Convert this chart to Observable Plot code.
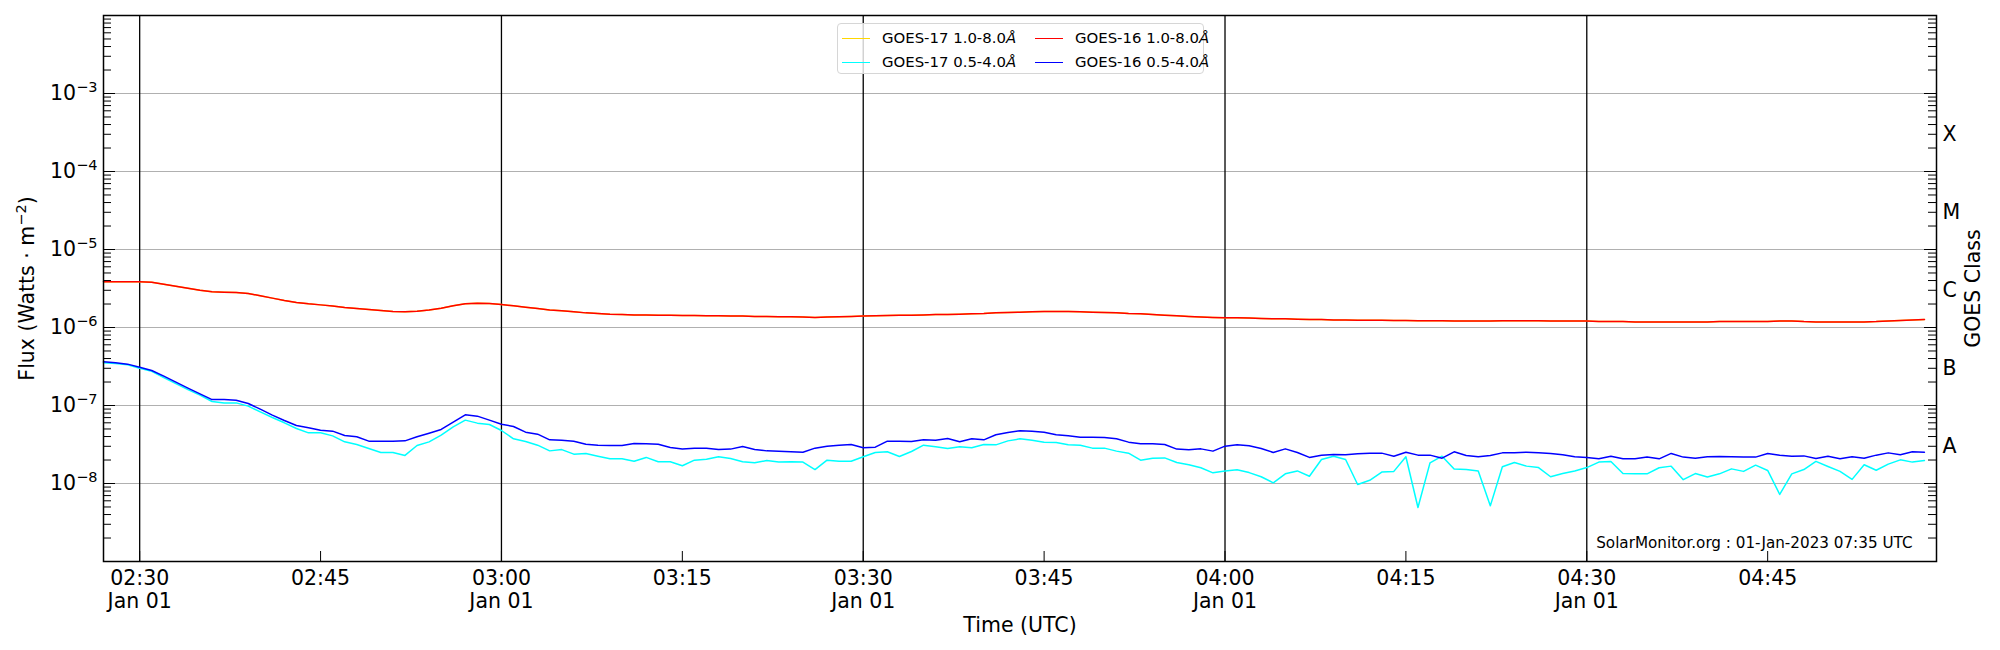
<!DOCTYPE html>
<html>
<head>
<meta charset="utf-8">
<script src="https://cdn.jsdelivr.net/npm/d3@7"></script>
<script src="https://cdn.jsdelivr.net/npm/@observablehq/plot@0.6"></script>
<style>
  html, body { margin: 0; padding: 0; background: #fff; }
  body { font-family: "DejaVu Sans", sans-serif; }
  #wrap { position: relative; width: 2000px; height: 650px; }
  #legend { position: absolute; left: 837px; top: 23px; width: 367px; height: 51px; box-sizing: border-box;
            border: 1px solid #d6d6d6; border-radius: 4px; background: rgba(255,255,255,0.8);
            font-family: "DejaVu Sans", sans-serif; font-size: 14.9px; color: #000; }
  .item { position: absolute; display: flex; align-items: center; height: 20px; white-space: nowrap; }
  .sw { width: 28px; height: 0; border-top: 1.5px solid; margin-right: 12px; }
</style>
</head>
<body>
<div id="wrap">
  <div id="chart"></div>
  <div id="legend"></div>
</div>
<script>
// ---- data: 1-minute samples starting 2023-01-01 02:27 UTC ----
const startTime = "2023-01-01T02:27:00Z";

const goes16Long = [
3.85e-6,3.85e-6,3.85e-6,3.85e-6,3.81e-6,3.59e-6,3.39e-6,3.19e-6,3.01e-6,2.87e-6,
2.84e-6,2.81e-6,2.73e-6,2.55e-6,2.38e-6,2.22e-6,2.09e-6,2.01e-6,1.95e-6,1.88e-6,
1.80e-6,1.75e-6,1.70e-6,1.65e-6,1.60e-6,1.59e-6,1.62e-6,1.68e-6,1.77e-6,1.90e-6,
2.01e-6,2.05e-6,2.03e-6,1.97e-6,1.90e-6,1.82e-6,1.75e-6,1.68e-6,1.64e-6,1.59e-6,
1.54e-6,1.51e-6,1.48e-6,1.47e-6,1.45e-6,1.45e-6,1.44e-6,1.44e-6,1.43e-6,1.43e-6,
1.41e-6,1.41e-6,1.40e-6,1.40e-6,1.38e-6,1.38e-6,1.37e-6,1.37e-6,1.36e-6,1.34e-6,
1.36e-6,1.37e-6,1.38e-6,1.40e-6,1.41e-6,1.43e-6,1.44e-6,1.44e-6,1.45e-6,1.47e-6,
1.47e-6,1.48e-6,1.50e-6,1.51e-6,1.54e-6,1.56e-6,1.57e-6,1.59e-6,1.60e-6,1.60e-6,
1.60e-6,1.59e-6,1.57e-6,1.56e-6,1.54e-6,1.51e-6,1.50e-6,1.47e-6,1.44e-6,1.41e-6,
1.38e-6,1.36e-6,1.34e-6,1.33e-6,1.33e-6,1.32e-6,1.30e-6,1.29e-6,1.29e-6,1.28e-6,
1.27e-6,1.27e-6,1.25e-6,1.25e-6,1.24e-6,1.24e-6,1.24e-6,1.23e-6,1.23e-6,1.22e-6,
1.22e-6,1.22e-6,1.21e-6,1.21e-6,1.21e-6,1.21e-6,1.22e-6,1.22e-6,1.22e-6,1.22e-6,
1.21e-6,1.21e-6,1.21e-6,1.21e-6,1.19e-6,1.19e-6,1.19e-6,1.18e-6,1.18e-6,1.18e-6,
1.18e-6,1.18e-6,1.18e-6,1.18e-6,1.19e-6,1.19e-6,1.19e-6,1.19e-6,1.19e-6,1.21e-6,
1.21e-6,1.19e-6,1.18e-6,1.18e-6,1.18e-6,1.18e-6,1.18e-6,1.19e-6,1.21e-6,1.23e-6,
1.25e-6,1.27e-6];

// GOES-17 long channel is indistinguishable from GOES-16 (drawn underneath)
const goes17Long = [
3.85e-6,3.85e-6,3.85e-6,3.85e-6,3.81e-6,3.59e-6,3.39e-6,3.19e-6,3.01e-6,2.87e-6,
2.84e-6,2.81e-6,2.73e-6,2.55e-6,2.38e-6,2.22e-6,2.09e-6,2.01e-6,1.95e-6,1.88e-6,
1.80e-6,1.75e-6,1.70e-6,1.65e-6,1.60e-6,1.59e-6,1.62e-6,1.68e-6,1.77e-6,1.90e-6,
2.01e-6,2.05e-6,2.03e-6,1.97e-6,1.90e-6,1.82e-6,1.75e-6,1.68e-6,1.64e-6,1.59e-6,
1.54e-6,1.51e-6,1.48e-6,1.47e-6,1.45e-6,1.45e-6,1.44e-6,1.44e-6,1.43e-6,1.43e-6,
1.41e-6,1.41e-6,1.40e-6,1.40e-6,1.38e-6,1.38e-6,1.37e-6,1.37e-6,1.36e-6,1.34e-6,
1.36e-6,1.37e-6,1.38e-6,1.40e-6,1.41e-6,1.43e-6,1.44e-6,1.44e-6,1.45e-6,1.47e-6,
1.47e-6,1.48e-6,1.50e-6,1.51e-6,1.54e-6,1.56e-6,1.57e-6,1.59e-6,1.60e-6,1.60e-6,
1.60e-6,1.59e-6,1.57e-6,1.56e-6,1.54e-6,1.51e-6,1.50e-6,1.47e-6,1.44e-6,1.41e-6,
1.38e-6,1.36e-6,1.34e-6,1.33e-6,1.33e-6,1.32e-6,1.30e-6,1.29e-6,1.29e-6,1.28e-6,
1.27e-6,1.27e-6,1.25e-6,1.25e-6,1.24e-6,1.24e-6,1.24e-6,1.23e-6,1.23e-6,1.22e-6,
1.22e-6,1.22e-6,1.21e-6,1.21e-6,1.21e-6,1.21e-6,1.22e-6,1.22e-6,1.22e-6,1.22e-6,
1.21e-6,1.21e-6,1.21e-6,1.21e-6,1.19e-6,1.19e-6,1.19e-6,1.18e-6,1.18e-6,1.18e-6,
1.18e-6,1.18e-6,1.18e-6,1.18e-6,1.19e-6,1.19e-6,1.19e-6,1.19e-6,1.19e-6,1.21e-6,
1.21e-6,1.19e-6,1.18e-6,1.18e-6,1.18e-6,1.18e-6,1.18e-6,1.19e-6,1.21e-6,1.23e-6,
1.25e-6,1.27e-6];

const goes16Short = [
36.3e-8,35.2e-8,33.9e-8,31.0e-8,28.1e-8,23.8e-8,19.9e-8,16.7e-8,14.1e-8,11.9e-8,
11.9e-8,11.7e-8,10.6e-8,8.97e-8,7.52e-8,6.42e-8,5.54e-8,5.17e-8,4.83e-8,4.69e-8,
4.13e-8,3.97e-8,3.49e-8,3.49e-8,3.49e-8,3.52e-8,3.97e-8,4.42e-8,4.93e-8,6.12e-8,
7.59e-8,7.30e-8,6.49e-8,5.76e-8,5.38e-8,4.55e-8,4.29e-8,3.63e-8,3.59e-8,3.49e-8,
3.19e-8,3.10e-8,3.07e-8,3.07e-8,3.26e-8,3.23e-8,3.19e-8,2.90e-8,2.76e-8,2.84e-8,
2.84e-8,2.73e-8,2.76e-8,2.98e-8,2.73e-8,2.62e-8,2.60e-8,2.55e-8,2.52e-8,2.84e-8,
3.01e-8,3.10e-8,3.16e-8,2.87e-8,2.92e-8,3.49e-8,3.49e-8,3.46e-8,3.63e-8,3.59e-8,
3.78e-8,3.42e-8,3.74e-8,3.63e-8,4.21e-8,4.51e-8,4.74e-8,4.69e-8,4.55e-8,4.21e-8,
4.08e-8,3.93e-8,3.93e-8,3.89e-8,3.74e-8,3.39e-8,3.23e-8,3.23e-8,3.16e-8,2.76e-8,
2.70e-8,2.78e-8,2.60e-8,3.01e-8,3.13e-8,3.04e-8,2.81e-8,2.50e-8,2.78e-8,2.50e-8,
2.16e-8,2.31e-8,2.36e-8,2.33e-8,2.40e-8,2.45e-8,2.45e-8,2.24e-8,2.52e-8,2.31e-8,
2.31e-8,2.11e-8,2.55e-8,2.29e-8,2.20e-8,2.29e-8,2.47e-8,2.47e-8,2.52e-8,2.47e-8,
2.43e-8,2.33e-8,2.20e-8,2.16e-8,2.07e-8,2.24e-8,2.07e-8,2.07e-8,2.18e-8,2.07e-8,
2.43e-8,2.18e-8,2.11e-8,2.20e-8,2.22e-8,2.20e-8,2.18e-8,2.18e-8,2.43e-8,2.31e-8,
2.24e-8,2.26e-8,2.09e-8,2.24e-8,2.07e-8,2.20e-8,2.11e-8,2.31e-8,2.47e-8,2.33e-8,
2.55e-8,2.52e-8];

const goes17Short = [
35.2e-8,34.5e-8,33.2e-8,30.1e-8,27.5e-8,22.8e-8,19.1e-8,16.0e-8,13.6e-8,11.25e-8,
10.8e-8,10.8e-8,9.81e-8,8.30e-8,7.02e-8,6.00e-8,5.07e-8,4.46e-8,4.46e-8,4.08e-8,
3.42e-8,3.16e-8,2.81e-8,2.50e-8,2.50e-8,2.29e-8,3.07e-8,3.42e-8,4.17e-8,5.33e-8,
6.49e-8,5.94e-8,5.71e-8,4.78e-8,3.74e-8,3.46e-8,3.10e-8,2.62e-8,2.72e-8,2.38e-8,
2.43e-8,2.24e-8,2.07e-8,2.07e-8,1.93e-8,2.16e-8,1.90e-8,1.90e-8,1.69e-8,1.99e-8,
2.05e-8,2.20e-8,2.09e-8,1.90e-8,1.84e-8,1.97e-8,1.88e-8,1.90e-8,1.88e-8,1.51e-8,
1.99e-8,1.93e-8,1.93e-8,2.20e-8,2.50e-8,2.55e-8,2.22e-8,2.57e-8,3.10e-8,2.95e-8,
2.81e-8,2.95e-8,2.87e-8,3.16e-8,3.13e-8,3.52e-8,3.74e-8,3.59e-8,3.39e-8,3.36e-8,
3.13e-8,3.10e-8,2.84e-8,2.84e-8,2.60e-8,2.45e-8,1.99e-8,2.11e-8,2.13e-8,1.86e-8,
1.74e-8,1.59e-8,1.37e-8,1.45e-8,1.50e-8,1.38e-8,1.22e-8,1.02e-8,1.33e-8,1.45e-8,
1.24e-8,2.03e-8,2.24e-8,2.03e-8,0.97e-8,1.10e-8,1.40e-8,1.43e-8,2.20e-8,0.492e-8,
1.84e-8,2.24e-8,1.53e-8,1.51e-8,1.45e-8,0.517e-8,1.64e-8,1.86e-8,1.67e-8,1.60e-8,
1.22e-8,1.34e-8,1.45e-8,1.60e-8,1.88e-8,1.92e-8,1.34e-8,1.33e-8,1.33e-8,1.59e-8,
1.67e-8,1.12e-8,1.34e-8,1.21e-8,1.33e-8,1.54e-8,1.43e-8,1.72e-8,1.47e-8,0.723e-8,
1.33e-8,1.51e-8,1.92e-8,1.65e-8,1.43e-8,1.13e-8,1.74e-8,1.48e-8,1.77e-8,2.01e-8,
1.88e-8,1.97e-8];

// ---- axis / tick definitions ----
const xDomain = ["2023-01-01T02:27:00Z", "2023-01-01T04:59:00Z"];
const yDomain = [1e-9, 1e-2];
const gridDecades = [1e-8, 1e-7, 1e-6, 1e-5, 1e-4, 1e-3];
const majorDecades = [1e-9, 1e-8, 1e-7, 1e-6, 1e-5, 1e-4, 1e-3, 1e-2];
const minorMantissas = [2, 3, 4, 5, 6, 7, 8, 9];
const halfHourLines = ["02:30", "03:00", "03:30", "04:00", "04:30"];
const quarterHourTicks = ["02:30", "02:45", "03:00", "03:15", "03:30", "03:45", "04:00", "04:15", "04:30", "04:45"];
const classLetters = ["A", "B", "C", "M", "X"];
const classLevels = [10 ** -7.5, 10 ** -6.5, 10 ** -5.5, 10 ** -4.5, 10 ** -3.5];
const seriesNames = ["GOES-17 1.0-8.0", "GOES-17 0.5-4.0", "GOES-16 1.0-8.0", "GOES-16 0.5-4.0"];
const seriesColors = ["gold", "cyan", "red", "blue"];
const yLabel = "Flux (Watts · m^-2)";
const caption = "SolarMonitor.org : 01-Jan-2023 07:35 UTC";

// ---- derived helpers ----
const t0 = new Date(startTime).getTime();
const times = goes16Long.map((_, i) => new Date(t0 + i * 60000));
const hm = s => new Date(`2023-01-01T${s}:00Z`);
const minorTicks = [];
for (let k = -9; k <= -3; k++) for (const m of minorMantissas) minorTicks.push(m * 10 ** k);

const W = 2000, H = 650, ML = 103, MR = 64, MT = 15, MB = 89;
const FW = W - ML - MR, FH = H - MT - MB;
const fmtHM = d3.utcFormat("%H:%M");
const FS = 20.5;

const seriesValues = [goes17Long, goes17Short, goes16Long, goes16Short];
const lineMarks = seriesValues.map((vals, s) =>
  Plot.line(vals, {x: (d, i) => times[i], y: d => d, stroke: seriesColors[s], strokeWidth: 1.5})
);

const chart = Plot.plot({
  width: W, height: H,
  marginLeft: ML, marginRight: MR, marginTop: MT, marginBottom: MB,
  style: {fontFamily: "DejaVu Sans, sans-serif", background: "white", color: "black"},
  x: {type: "utc", domain: xDomain.map(d => new Date(d))},
  y: {type: "log", domain: yDomain},
  marks: [
    Plot.ruleY(gridDecades, {stroke: "#b0b0b0", strokeWidth: 1}),
    Plot.ruleX(halfHourLines.map(hm), {stroke: "black", strokeWidth: 1.3}),
    ...lineMarks,
    // inward ticks, left and right
    Plot.tickY(majorDecades, {stroke: "black", strokeWidth: 1, insetRight: FW - 12}),
    Plot.tickY(minorTicks, {stroke: "black", strokeWidth: 1, insetRight: FW - 8}),
    Plot.tickY(majorDecades, {stroke: "black", strokeWidth: 1, insetLeft: FW - 12}),
    Plot.tickY(minorTicks, {stroke: "black", strokeWidth: 1, insetLeft: FW - 8}),
    // inward bottom ticks
    Plot.tickX(quarterHourTicks.map(hm), {stroke: "black", strokeWidth: 1, insetTop: FH - 10}),
    Plot.frame({stroke: "black", strokeWidth: 1.5}),
    Plot.axisY(gridDecades, {tickSize: 0, tickPadding: 6, fontSize: FS, label: null,
      tickFormat: d => "10^" + Math.round(Math.log10(d))}),
    Plot.axisX(quarterHourTicks.map(hm), {tickSize: 0, tickPadding: 7, fontSize: FS, lineHeight: 1.13, label: null,
      tickFormat: d => d.getUTCMinutes() % 30 === 0 ? fmtHM(d) + "\nJan 01" : fmtHM(d)}),
    Plot.text(classLetters, {y: classLevels, text: d => d, frameAnchor: "right", dx: 6, dy: 2,
      textAnchor: "start", lineAnchor: "middle", fontSize: FS}),
    Plot.text([yLabel], {text: d => d, frameAnchor: "left", dx: -76, rotate: -90,
      textAnchor: "middle", lineAnchor: "middle", fontSize: FS}),
    Plot.text(["GOES Class"], {text: d => d, frameAnchor: "right", dx: 37, rotate: -90,
      textAnchor: "middle", lineAnchor: "middle", fontSize: FS}),
    Plot.text(["Time (UTC)"], {text: d => d, frameAnchor: "bottom", dy: 64,
      textAnchor: "middle", lineAnchor: "middle", fontSize: FS}),
    Plot.text([caption], {text: d => d, frameAnchor: "bottom-right", dx: -24, dy: -18,
      textAnchor: "end", lineAnchor: "middle", fontSize: 15.2})
  ]
});

document.getElementById("chart").appendChild(chart);

// superscripts for y tick labels
d3.select(chart).selectAll('g[aria-label="y-axis tick label"] text').each(function () {
  const [base, exp] = this.textContent.split("^");
  const sel = d3.select(this);
  sel.text(null);
  sel.append("tspan").text(base);
  sel.append("tspan").attr("dy", -8).attr("font-size", 14.5).text(exp.replace("-", "\u2212"));
});
// superscript for flux label
d3.select(chart).selectAll("text").filter(function () { return this.textContent === yLabel; }).each(function () {
  const sel = d3.select(this);
  sel.text(null);
  sel.append("tspan").text("Flux (Watts · m");
  sel.append("tspan").attr("dy", -8).attr("font-size", 14.5).text("\u22122");
  sel.append("tspan").attr("dy", 8).text(")");
});

// legend (overlay, two columns)
const legend = document.getElementById("legend");
const legendSlots = [
  {left: 4, top: 4}, {left: 4, top: 28}, {left: 197, top: 4}, {left: 197, top: 28}
];
seriesNames.forEach((name, i) => {
  const it = document.createElement("div");
  it.className = "item";
  it.style.left = legendSlots[i].left + "px";
  it.style.top = legendSlots[i].top + "px";
  it.innerHTML = `<span class="sw" style="border-color:${seriesColors[i]}"></span><span>${name}<i>Å</i></span>`;
  legend.appendChild(it);
});
</script>
</body>
</html>
